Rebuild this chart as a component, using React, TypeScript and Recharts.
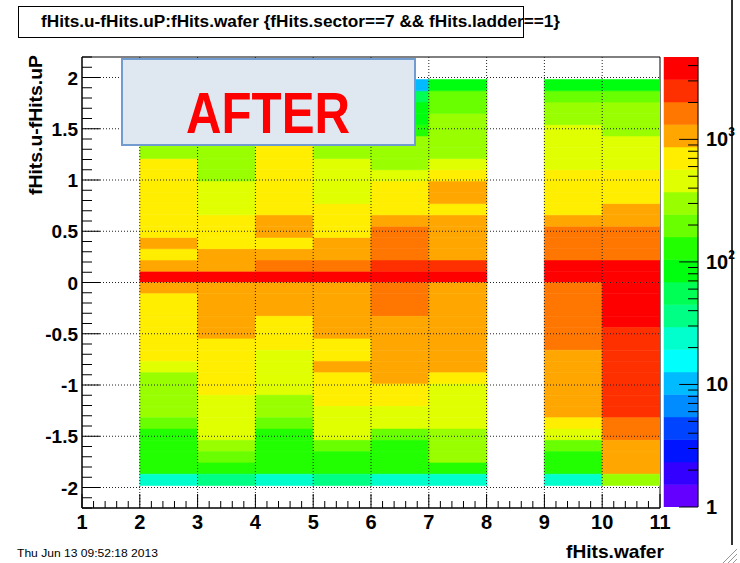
import React from "react";
import { Bar, BarChart, Cell, ReferenceArea, ReferenceLine, XAxis, YAxis } from "recharts";

// wafers along x; each column spans [wafer, wafer + 1]
const WAFERS = [2, 3, 4, 5, 6, 7, 8, 9, 10];
const BIN_WIDTH = 0.11;
const BINS_PER_SIDE = 18;

// hit counts per wafer, top bin (1.87..1.98) first, bottom bin (-1.98..-1.87) last
const W2 = [55, 130, 200, 290, 310, 300, 320, 690, 720, 740, 700, 760, 780, 800, 1020, 820, 1150, 3900, 1100, 790, 720, 700, 680, 650, 620, 480, 350, 320, 290, 270, 190, 140, 130, 125, 120, 23];
const W3 = [58, 125, 210, 300, 330, 340, 320, 310, 350, 420, 450, 500, 610, 650, 700, 900, 1200, 3700, 1250, 1180, 1100, 1000, 900, 840, 800, 760, 700, 640, 540, 500, 460, 420, 290, 180, 115, 36];
const W4 = [60, 140, 220, 330, 400, 600, 630, 650, 700, 720, 760, 800, 950, 1000, 840, 1100, 1500, 3800, 1200, 1050, 920, 830, 760, 700, 560, 520, 470, 400, 340, 280, 210, 150, 140, 130, 120, 25];
const W5 = [50, 120, 190, 270, 300, 320, 340, 400, 430, 470, 520, 620, 700, 780, 950, 1050, 1450, 3600, 1150, 1100, 1050, 980, 900, 760, 700, 920, 820, 760, 680, 540, 480, 420, 190, 140, 118, 34];
const W6 = [10, 52, 80, 95, 120, 260, 290, 340, 450, 620, 680, 760, 1000, 1400, 1600, 1800, 2400, 4300, 1900, 1700, 1450, 1250, 1150, 1100, 1050, 980, 900, 760, 650, 520, 420, 200, 150, 140, 110, 26];
const W7 = [90, 170, 230, 260, 280, 300, 330, 480, 620, 900, 950, 820, 1000, 1080, 1150, 1250, 2300, 3400, 1300, 1200, 1150, 1100, 1050, 1000, 950, 900, 700, 540, 500, 450, 400, 360, 320, 280, 150, 28];
const W9 = [95, 210, 260, 330, 400, 450, 500, 540, 600, 680, 740, 820, 1100, 1400, 1600, 1900, 3300, 3500, 1950, 1800, 1700, 1600, 1500, 1400, 1300, 1200, 1100, 1050, 1000, 950, 700, 450, 210, 150, 130, 24];
const W10 = [100, 220, 280, 320, 360, 420, 480, 540, 620, 700, 800, 1000, 1200, 1500, 1700, 1950, 3400, 4000, 4300, 4100, 3700, 3200, 2900, 2800, 2700, 2600, 2500, 2400, 2300, 2200, 1900, 1600, 1250, 1100, 950, 300];
const COUNTS: (number[] | null)[] = [W2, W3, W4, W5, W6, W7, null, W9, W10];

const X_LABELS = [1, 2, 3, 4, 5, 6, 7, 8, 9, 10, 11];
const Y_LABELS = [-2, -1.5, -1, -0.5, 0, 0.5, 1, 1.5, 2];
const Z_DECADES = [1, 10, 100, 1000];
const Z_MAX = 4700;
const N_LEVELS = 20;

const X_TICKS = Array.from({ length: 51 }, (_, i) => +(1 + i * 0.2).toFixed(1));
const Y_TICKS = Array.from({ length: 45 }, (_, i) => +(-2.2 + i * 0.1).toFixed(1));
const LOG_ZMAX = Math.log10(Z_MAX);
const Z_TICKS = Z_DECADES.flatMap((d) => [1, 2, 3, 4, 5, 6, 7, 8, 9].map((m) => m * d))
  .filter((v) => v <= Z_MAX)
  .map((v) => Math.log10(v));

const FONT = '"Liberation Sans", Arial, Helvetica, sans-serif';

// ROOT "pretty" palette: 50 hues violet -> red, sampled for 20 contour levels
function paletteColor(level: number): string {
  const idx = Math.floor(((level + 0.99) * 50) / N_LEVELS);
  const hue = 280 - (idx + 1) * 5.6;
  return `hsl(${hue.toFixed(1)}, 100%, 50%)`;
}

function levelOf(z: number): number {
  const l = Math.floor((Math.log10(z) / LOG_ZMAX) * N_LEVELS);
  return Math.max(0, Math.min(N_LEVELS - 1, l));
}

const BIN_COUNT = BINS_PER_SIDE * 2;
// positive bins stack upward from 0, negative ones downward
const STACK_ORDER = [
  ...Array.from({ length: BINS_PER_SIDE }, (_, k) => BINS_PER_SIDE - 1 - k),
  ...Array.from({ length: BINS_PER_SIDE }, (_, k) => BINS_PER_SIDE + k),
];

const histData = WAFERS.map((w, wi) => {
  const row: Record<string, number> = { x: w + 0.5 };
  for (let i = 0; i < BIN_COUNT; i++) {
    row[`b${i}`] = COUNTS[wi] ? (i < BINS_PER_SIDE ? BIN_WIDTH : -BIN_WIDTH) : 0;
  }
  return row;
});

const LEVELS = Array.from({ length: N_LEVELS }, (_, j) => j);
const barData = [
  LEVELS.reduce((row: Record<string, any>, j) => {
    row[`l${j}`] = LOG_ZMAX / N_LEVELS;
    return row;
  }, { name: "z" }),
];

function renderXTick(props: any) {
  const { x, y, payload } = props;
  const v = payload.value;
  const major = Math.abs(v - Math.round(v)) < 1e-6;
  return (
    <g>
      <line x1={x} x2={x} y1={y} y2={y - (major ? 14 : 7)} stroke="#000" />
      {major && (
        <text x={x} y={y + 21} textAnchor="middle" fontFamily={FONT} fontWeight="bold" fontSize={20} fill="#000">
          {Math.round(v)}
        </text>
      )}
    </g>
  );
}

function renderYTick(props: any) {
  const { x, y, payload } = props;
  const v = payload.value;
  const major = Math.abs(v * 2 - Math.round(v * 2)) < 1e-6 && Math.abs(v) <= 2;
  return (
    <g>
      <line x1={x} x2={x + (major ? 18 : 10)} y1={y} y2={y} stroke="#000" />
      {major && (
        <text x={x - 4} y={y + 7} textAnchor="end" fontFamily={FONT} fontWeight="bold" fontSize={19} fill="#000">
          {String(Number(v.toFixed(1)))}
        </text>
      )}
    </g>
  );
}

function renderZTick(props: any) {
  const { x, y, payload } = props;
  const v = payload.value;
  const e = Math.round(v);
  const major = Math.abs(v - e) < 1e-6;
  return (
    <g>
      <line x1={x - (major ? 19 : 10)} x2={x} y1={y} y2={y} stroke="#000" />
      {major && (
        <text x={x + 8} y={y + 7} fontFamily={FONT} fontWeight="bold" fontSize={20} fill="#000">
          {e === 0 ? "1" : "10"}
          {e >= 2 && (
            <tspan fontSize={12} dy={-10}>
              {e}
            </tspan>
          )}
        </text>
      )}
    </g>
  );
}

function XTitle(props: any) {
  const vb = props.viewBox;
  return (
    <text x={vb.x + vb.width + 4} y={vb.y + vb.height + 20} textAnchor="end" fontFamily={FONT} fontWeight="bold" fontSize={19} fill="#000" textLength={98} lengthAdjust="spacingAndGlyphs">
      fHits.wafer
    </text>
  );
}

function YTitle(props: any) {
  const vb = props.viewBox;
  const cx = vb.x + 20;
  const cy = vb.y - 2;
  return (
    <text x={cx} y={cy} transform={`rotate(-90 ${cx} ${cy})`} textAnchor="end" fontFamily={FONT} fontWeight="bold" fontSize={19} fill="#000" textLength={140} lengthAdjust="spacingAndGlyphs">
      fHits.u-fHits.uP
    </text>
  );
}

export default function App() {
  return (
    <div style={{ position: "absolute", left: 0, top: 0, width: 740, height: 563, background: "#fff", overflow: "hidden" }}>
      <div style={{ position: "absolute", left: 731, top: 0, width: 2, height: 545, background: "#333" }} />
      <svg width={20} height={20} style={{ position: "absolute", left: 718, top: 545 }}>
        <line x1={4} y1={19} x2={19} y2={4} stroke="#999" />
        <line x1={9} y1={19} x2={19} y2={9} stroke="#999" />
        <line x1={14} y1={19} x2={19} y2={14} stroke="#999" />
      </svg>
      <div style={{ position: "absolute", left: 0, top: 0, width: 740, height: 563 }}>
        <div style={{ position: "absolute", left: 0, top: 0 }}>
          <BarChart
            width={731}
            height={563}
            data={histData}
            margin={{ top: 57, right: 71, bottom: 25, left: 22 }}
            stackOffset="sign"
            barCategoryGap={0}
            barGap={0}
          >
            <XAxis
              type="number"
              dataKey="x"
              domain={[1, 11]}
              ticks={X_TICKS}
              interval={0}
              allowDataOverflow
              height={30}
              tickSize={0}
              tickMargin={0}
              tickLine={false}
              axisLine={{ stroke: "#000" }}
              tick={renderXTick}
              label={(p: any) => <XTitle {...p} />}
            />
            <YAxis
              type="number"
              domain={[-2.2, 2.2]}
              ticks={Y_TICKS}
              interval={0}
              allowDataOverflow
              width={60}
              tickSize={0}
              tickMargin={0}
              tickLine={false}
              axisLine={{ stroke: "#000" }}
              tick={renderYTick}
              label={(p: any) => <YTitle {...p} />}
            />
            {STACK_ORDER.map((i) => (
              <Bar key={i} dataKey={`b${i}`} stackId="h" isAnimationActive={false}>
                {WAFERS.map((w, wi) => {
                  const c = COUNTS[wi] ? (COUNTS[wi] as number[])[i] : 0;
                  const fill = c > 0 ? paletteColor(levelOf(c)) : "none";
                  return <Cell key={w} fill={fill} stroke={fill} strokeWidth={0.6} />;
                })}
              </Bar>
            ))}
            {X_LABELS.slice(1, -1).map((v) => (
              <ReferenceLine key={`gx${v}`} x={v} stroke="#222" strokeDasharray="1 2" />
            ))}
            {Y_LABELS.map((v) => (
              <ReferenceLine key={`gy${v}`} y={v} stroke="#222" strokeDasharray="1 2" />
            ))}
            <ReferenceArea x1={1} x2={11} y1={-2.2} y2={2.2} fill="none" fillOpacity={0} stroke="#000" strokeOpacity={1} />
          </BarChart>
        </div>

        <div style={{ position: "absolute", left: 600, top: 0 }}>
          <BarChart width={140} height={563} data={barData} margin={{ top: 57, right: 9, bottom: 56, left: 64 }} barCategoryGap={0} barGap={0}>
            <XAxis dataKey="name" type="category" hide />
            <YAxis
              orientation="right"
              type="number"
              domain={[0, LOG_ZMAX]}
              ticks={Z_TICKS}
              interval={0}
              allowDataOverflow
              width={33}
              tickSize={0}
              tickMargin={0}
              tickLine={false}
              axisLine={{ stroke: "#000" }}
              tick={renderZTick}
            />
            {LEVELS.map((j) => (
              <Bar key={j} dataKey={`l${j}`} stackId="z" fill={paletteColor(j)} stroke={paletteColor(j)} strokeWidth={0.5} isAnimationActive={false} />
            ))}
          </BarChart>
        </div>

        <svg width={740} height={563} style={{ position: "absolute", left: 0, top: 0, pointerEvents: "none" }}>
          <rect x={18.5} y={6.5} width={505} height={31} fill="#fff" stroke="#000" />
          <text x={41} y={27} fontFamily={FONT} fontWeight="bold" fontSize={16} fill="#000" textLength={519} lengthAdjust="spacingAndGlyphs">
            {"fHits.u-fHits.uP:fHits.wafer {fHits.sector==7 && fHits.ladder==1}"}
          </text>
          <rect x={122} y={59} width={293} height={86} fill="#dfe7f1" stroke="#729bd0" strokeWidth={2} />
          <text x={268} y={133} textAnchor="middle" fontFamily={FONT} fontWeight="bold" fontSize={57} fill="#ff0000" textLength={164} lengthAdjust="spacingAndGlyphs">
            AFTER
          </text>
          <text x={17} y={557} fontFamily={FONT} fontSize={11} fill="#000" textLength={141} lengthAdjust="spacingAndGlyphs">
            Thu Jun 13 09:52:18 2013
          </text>
        </svg>
      </div>
    </div>
  );
}
